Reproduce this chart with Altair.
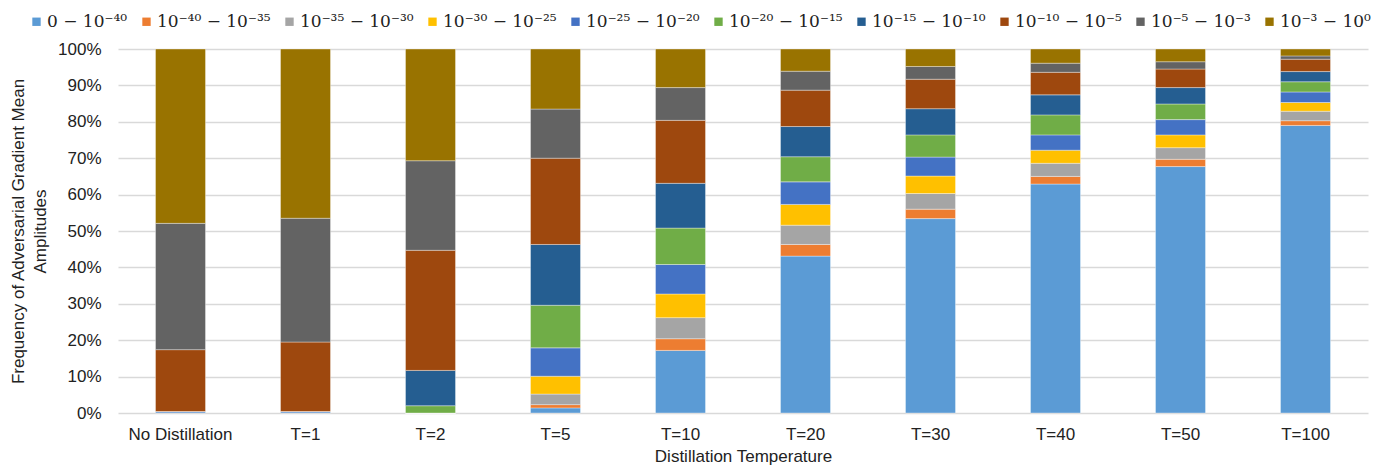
import altair as alt
import pandas as pd

categories = ["No Distillation", "T=1", "T=2", "T=5", "T=10", "T=20", "T=30", "T=40", "T=50", "T=100"]

bin_labels = [
    "0 − 10⁻⁴⁰",
    "10⁻⁴⁰ − 10⁻³⁵",
    "10⁻³⁵ − 10⁻³⁰",
    "10⁻³⁰ − 10⁻²⁵",
    "10⁻²⁵ − 10⁻²⁰",
    "10⁻²⁰ − 10⁻¹⁵",
    "10⁻¹⁵ − 10⁻¹⁰",
    "10⁻¹⁰ − 10⁻⁵",
    "10⁻⁵ − 10⁻³",
    "10⁻³ − 10⁰",
]

bin_colors = ["#5B9BD5", "#ED7D31", "#A5A5A5", "#FFC000", "#4472C4",
              "#70AD47", "#255E91", "#9E480E", "#636363", "#997300"]

# percentage of each amplitude bin per temperature (one list per bin)
b0 = [0.4, 0.4, 0.0, 1.4, 17.2, 43.1, 53.4, 62.9, 67.7, 79.0]
b1 = [0.0, 0.0, 0.0, 0.9, 3.2, 3.2, 2.6, 2.1, 2.0, 1.3]
b2 = [0.0, 0.0, 0.0, 2.9, 5.8, 5.3, 4.3, 3.6, 3.2, 2.6]
b3 = [0.0, 0.0, 0.0, 4.9, 6.5, 5.7, 4.8, 3.6, 3.5, 2.4]
b4 = [0.0, 0.0, 0.0, 7.8, 8.1, 6.2, 5.2, 4.2, 4.2, 2.9]
b5 = [0.0, 0.0, 2.0, 11.7, 10.0, 6.9, 6.1, 5.5, 4.3, 2.8]
b6 = [0.0, 0.0, 9.7, 16.7, 12.3, 8.3, 7.2, 5.5, 4.5, 2.8]
b7 = [17.0, 19.1, 33.0, 23.7, 17.3, 10.0, 8.1, 6.2, 5.1, 3.4]
b8 = [34.7, 34.0, 24.6, 13.5, 9.0, 5.2, 3.5, 2.5, 2.0, 0.9]
b9 = [47.9, 46.5, 30.7, 16.5, 10.6, 6.1, 4.8, 3.9, 3.5, 1.9]

bins = [b0, b1, b2, b3, b4, b5, b6, b7, b8, b9]

rows = []
for i, (lab, vals) in enumerate(zip(bin_labels, bins)):
    for cat, v in zip(categories, vals):
        rows.append({"category": cat, "bin": lab, "order": i, "value": v / 100.0})
df = pd.DataFrame(rows)

FONT = "Liberation Sans"
TEXT = "#222222"

chart = (
    alt.Chart(df)
    .mark_bar(stroke="white", strokeWidth=0.6, strokeOpacity=0.6)
    .encode(
        x=alt.X(
            "category:N",
            sort=categories,
            scale=alt.Scale(paddingInner=0.6, paddingOuter=0.3),
            axis=alt.Axis(
                title="Distillation Temperature",
                labelAngle=0,
                ticks=False,
                domain=False,
                labelPadding=13,
                labelFontSize=17,
                labelFont=FONT,
                labelColor=TEXT,
                titleFontSize=17,
                titleFont=FONT,
                titleFontWeight="normal",
                titleColor=TEXT,
                titlePadding=6,
            ),
        ),
        y=alt.Y(
            "value:Q",
            stack="zero",
            scale=alt.Scale(domain=[0, 1], nice=False),
            axis=alt.Axis(
                title=["Frequency of Adversarial Gradient Mean", "Amplitudes"],
                format="%",
                values=[i / 10 for i in range(11)],
                ticks=False,
                domain=False,
                labelPadding=17,
                labelFontSize=17,
                labelFont=FONT,
                labelColor=TEXT,
                titleFontSize=17,
                titleFont=FONT,
                titleFontWeight="normal",
                titleColor=TEXT,
                titlePadding=8,
                titleLineHeight=22,
                gridColor="#D9D9D9",
                gridWidth=1.5,
            ),
        ),
        color=alt.Color(
            "bin:N",
            sort=bin_labels,
            scale=alt.Scale(domain=bin_labels, range=bin_colors),
            legend=alt.Legend(
                title=None,
                orient="none",
                direction="horizontal",
                columns=10,
                legendX=-90,
                legendY=-36,
                symbolType="square",
                symbolSize=70,
                symbolStrokeWidth=0,
                labelFont="DejaVu Serif",
                labelFontSize=17,
                labelColor=TEXT,
                labelOffset=2,
                columnPadding=10,
            ),
        ),
        order=alt.Order("order:Q", sort="ascending"),
    )
    .properties(
        width=1250,
        height=364,
        autosize=alt.AutoSizeParams(type="none"),
        padding={"left": 110, "top": 41, "right": 12, "bottom": 56},
    )
    .configure_view(stroke=None)
)

chart.save("out.html", embed_options={"renderer": "svg", "actions": False})
